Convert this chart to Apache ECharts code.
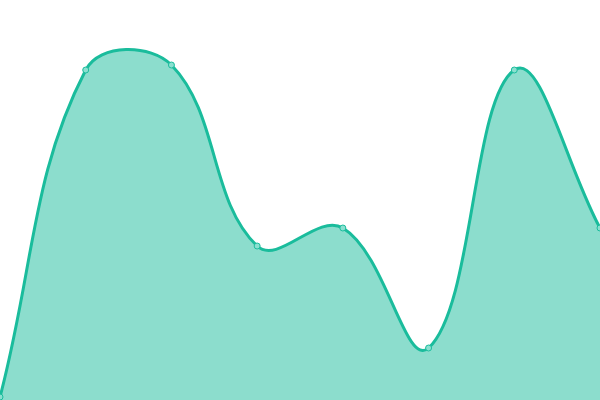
<!DOCTYPE html>
<html><head><meta charset="utf-8">
<script src="https://cdn.jsdelivr.net/npm/echarts@6/dist/echarts.min.js"></script>
<style>html,body{margin:0;padding:0;background:#fff}#c{width:600px;height:400px}</style>
</head><body><div id="c"></div>
<script>
const categories = ['A','B','C','D','E','F','G','H'];
const values = [3, 330, 335, 154, 172, 52, 330, 172];
const tension = 0.4;

function splinePath(pts, base) {
  const n = pts.length;
  const cps = pts.map((p, i) => {
    const prev = pts[i - 1] || p, next = pts[i + 1] || p;
    const d01 = Math.hypot(p[0] - prev[0], p[1] - prev[1]);
    const d12 = Math.hypot(next[0] - p[0], next[1] - p[1]);
    const sum = d01 + d12 || 1;
    const fa = tension * d01 / sum, fb = tension * d12 / sum;
    const dx = next[0] - prev[0], dy = next[1] - prev[1];
    return {
      prev: [p[0] - fa * dx, p[1] - fa * dy],
      next: [p[0] + fb * dx, p[1] + fb * dy]
    };
  });
  let d = 'M' + pts[0][0] + ' ' + pts[0][1];
  for (let i = 1; i < n; i++) {
    const a = cps[i - 1].next, b = cps[i].prev, p = pts[i];
    d += ' C' + a[0] + ' ' + a[1] + ' ' + b[0] + ' ' + b[1] + ' ' + p[0] + ' ' + p[1];
  }
  const line = d;
  const area = d + ' L' + pts[n - 1][0] + ' ' + base + ' L' + pts[0][0] + ' ' + base + ' Z';
  return {line, area};
}

const chart = echarts.init(document.getElementById('c'));
chart.setOption({
  animation: false,
  grid: {left: 0, right: 0, top: 0, bottom: 0},
  xAxis: {type: 'category', data: categories, boundaryGap: false, show: false},
  yAxis: {type: 'value', min: 0, max: 400, show: false},
  series: [{
    type: 'custom',
    data: [[0, values[0]]],
    z: 1,
    renderItem: function (params, api) {
      const pts = categories.map((c, i) => api.coord([i, values[i]]));
      const base = api.coord([0, 0])[1];
      const p = splinePath(pts, base);
      return {
        type: 'group',
        children: [
          {type: 'path', shape: {pathData: p.area}, style: {fill: 'rgba(26,188,156,0.5)', stroke: null}},
          {type: 'path', shape: {pathData: p.line}, style: {fill: null, stroke: '#1abc9c', lineWidth: 3}}
        ]
      };
    }
  }, {
    type: 'line',
    data: values,
    z: 3,
    symbol: 'circle',
    symbolSize: 6,
    itemStyle: {color: '#8ae0d0', borderColor: '#1abc9c', borderWidth: 1},
    lineStyle: {opacity: 0}
  }]
});
</script></body></html>
